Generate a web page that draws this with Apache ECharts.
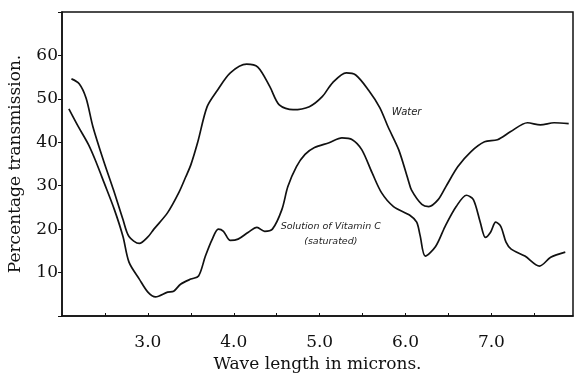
<!DOCTYPE html>
<html>
<head>
<meta charset="utf-8">
<script src="https://cdn.jsdelivr.net/npm/echarts@6/dist/echarts.min.js"></script>
<style>
  html, body { margin: 0; padding: 0; background: #fff; }
  #main { width: 575px; height: 373px; }
</style>
</head>
<body>
<div id="main"></div>
<script>
// wave length (microns) and percentage transmission
const waterWave = [2.11, 2.2, 2.28, 2.36, 2.48, 2.6, 2.71, 2.78, 2.9, 3.0, 3.07, 3.23, 3.36, 3.44, 3.5, 3.58, 3.69, 3.81, 3.96, 4.15, 4.28, 4.42, 4.53, 4.69, 4.88, 5.03, 5.15, 5.31, 5.42, 5.57, 5.7, 5.8, 5.92, 6.03, 6.07, 6.19, 6.27, 6.38, 6.47, 6.61, 6.76, 6.92, 7.07, 7.22, 7.42, 7.57, 7.73, 7.9];
const waterTrans = [54.6, 53.5, 50.2, 43.6, 36.0, 29.0, 22.2, 18.3, 16.7, 18.2, 20.0, 23.8, 28.4, 32.0, 34.8, 40.0, 48.2, 52.0, 56.0, 58.0, 57.3, 52.8, 48.6, 47.5, 48.2, 50.5, 53.7, 56.0, 55.5, 52.0, 48.0, 43.4, 38.3, 31.4, 29.0, 25.7, 25.2, 26.8, 29.8, 34.4, 37.8, 40.1, 40.6, 42.4, 44.5, 44.0, 44.5, 44.3];

const vitWave = [2.08, 2.19, 2.31, 2.4, 2.49, 2.61, 2.71, 2.78, 2.9, 3.0, 3.09, 3.23, 3.3, 3.38, 3.5, 3.59, 3.67, 3.75, 3.82, 3.88, 3.96, 4.05, 4.17, 4.27, 4.36, 4.45, 4.56, 4.63, 4.73, 4.83, 4.94, 5.11, 5.26, 5.38, 5.49, 5.61, 5.72, 5.86, 6.05, 6.13, 6.17, 6.23, 6.35, 6.46, 6.59, 6.71, 6.79, 6.87, 6.93, 6.99, 7.05, 7.11, 7.17, 7.23, 7.39, 7.56, 7.69, 7.86];
const vitTrans = [47.7, 43.6, 39.4, 35.3, 30.7, 24.5, 18.3, 12.4, 8.5, 5.5, 4.4, 5.5, 5.7, 7.3, 8.5, 9.2, 13.8, 17.7, 20.0, 19.5, 17.4, 17.7, 19.3, 20.4, 19.5, 20.0, 24.5, 29.8, 34.4, 37.2, 38.8, 39.9, 41.0, 40.6, 38.3, 33.0, 28.4, 25.2, 23.2, 21.6, 18.5, 13.8, 16.0, 20.6, 25.2, 27.8, 26.8, 21.6, 18.1, 19.3, 21.6, 20.6, 17.0, 15.4, 13.8, 11.5, 13.5, 14.7];

const xTickLabels = ["3.0", "4.0", "5.0", "6.0", "7.0"];
const yTickLabels = ["10", "20", "30", "40", "50", "60"];

const zip = (xs, ys) => xs.map((x, i) => [x, ys[i]]);

const serif = "DejaVu Serif";
const chart = echarts.init(document.getElementById("main"));

const option = {
  animation: false,
  backgroundColor: "#fff",
  grid: {
    left: 62,
    right: 2,
    top: 12,
    bottom: 57,
    outerBoundsMode: "none",
    containLabel: false,
    show: true,
    borderColor: "#111",
    borderWidth: 1.5,
  },
  xAxis: {
    type: "value",
    min: 2.0,
    max: 7.95,
    interval: 0.5,
    name: "Wave length in microns.",
    nameLocation: "middle",
    nameGap: 37,
    nameTextStyle: { fontFamily: serif, fontSize: 17, color: "#111" },
    axisLine: { show: true, lineStyle: { color: "#111", width: 1.5 } },
    axisTick: { show: true, inside: true, length: 3, lineStyle: { color: "#111" } },
    splitLine: { show: false },
    axisLabel: {
      margin: 18,
      fontFamily: serif,
      fontSize: 17,
      color: "#111",
      showMinLabel: false,
      showMaxLabel: false,
      formatter: (v) => {
        const s = v.toFixed(1);
        return xTickLabels.includes(s) ? s : "";
      },
    },
  },
  yAxis: {
    type: "value",
    min: 0,
    max: 70,
    interval: 10,
    name: "Percentage transmission.",
    nameLocation: "middle",
    nameGap: 38,
    nameTextStyle: { fontFamily: serif, fontSize: 17, color: "#111" },
    axisLine: { show: true, lineStyle: { color: "#111", width: 1.5 } },
    axisTick: { show: true, length: 4, lineStyle: { color: "#111" } },
    splitLine: { show: false },
    axisLabel: {
      margin: 4,
      fontFamily: serif,
      fontSize: 17,
      color: "#111",
      formatter: (v) => (yTickLabels.includes(String(v)) ? String(v) : ""),
    },
  },
  series: [
    {
      name: "Water",
      type: "line",
      smooth: 0.3,
      showSymbol: false,
      lineStyle: { color: "#111", width: 1.7 },
      data: zip(waterWave, waterTrans),
      markPoint: {
        symbol: "circle",
        symbolSize: 0,
        label: {
          show: true,
          position: "right",
          distance: 0,
          formatter: "Water",
          fontFamily: "DejaVu Sans",
          fontStyle: "italic",
          fontSize: 10,
          color: "#222",
        },
        data: [{ coord: [5.84, 46.8] }],
      },
    },
    {
      name: "Solution of Vitamin C (saturated)",
      type: "line",
      smooth: 0.3,
      showSymbol: false,
      lineStyle: { color: "#111", width: 1.7 },
      data: zip(vitWave, vitTrans),
      markPoint: {
        symbol: "circle",
        symbolSize: 0,
        label: {
          show: true,
          position: "inside",
          formatter: "Solution of Vitamin C\n(saturated)",
          fontFamily: "DejaVu Sans",
          fontStyle: "italic",
          fontSize: 9.5,
          lineHeight: 15,
          align: "center",
          color: "#222",
        },
        data: [{ coord: [5.13, 18.9] }],
      },
    },
  ],
};

chart.setOption(option);
</script>
</body>
</html>
